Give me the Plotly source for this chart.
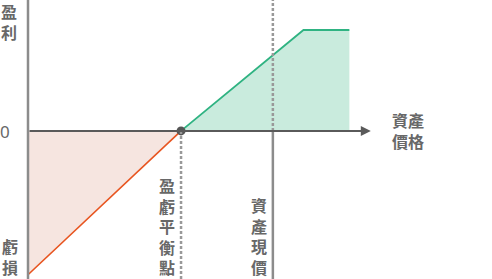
import plotly.graph_objects as go

# Data (price units / profit units)
loss_price = [0, 50]
loss_profit = [-47, 0]
gain_price = [50, 90, 105]
gain_profit = [0, 33, 33]
breakeven = 50
current_price = 80
axis_end = 112
x_range = [-9.15, 151.6]
y_range = [-48.4, 42.8]

label_color = "#686868"
font_cjk = "Noto Sans CJK TC"
lab_font = dict(family=font_cjk, size=16, color=label_color)
LINE = 20.5

fig = go.Figure()

fig.add_trace(go.Scatter(x=loss_price, y=loss_profit, mode="lines",
                         line=dict(color="#e8541f", width=1.6),
                         fill="tozeroy", fillcolor="#f6e5e0", hoverinfo="skip"))
fig.add_trace(go.Scatter(x=gain_price, y=gain_profit, mode="lines",
                         line=dict(color="#2fb382", width=1.8),
                         fill="tozeroy", fillcolor="#c9ebdd", hoverinfo="skip"))

shapes = [
    dict(type="line", xref="x", yref="paper", x0=0, x1=0, y0=0, y1=1,
         line=dict(color="#8c8c8c", width=2.5)),
    dict(type="line", xref="x", yref="y", x0=breakeven, x1=breakeven, y0=0, y1=y_range[0],
         line=dict(color="#999999", width=2.5, dash="3px,2px")),
    dict(type="line", xref="x", yref="y", x0=current_price, x1=current_price, y0=0, y1=y_range[1],
         line=dict(color="#999999", width=2.5, dash="3px,2px")),
    dict(type="line", xref="x", yref="y", x0=current_price, x1=current_price, y0=0, y1=y_range[0],
         line=dict(color="#8c8c8c", width=2.5)),
]

annotations = [
    dict(x=axis_end, y=0, ax=0, ay=0, xref="x", yref="y", axref="x", ayref="y",
         showarrow=True, arrowhead=2, arrowsize=1, arrowwidth=2, arrowcolor="#5a5a5a", text=""),
    dict(text="0", x=0, y=0, xref="x", yref="y", showarrow=False,
         font=dict(family="Noto Sans", size=17, color=label_color),
         xanchor="center", yanchor="middle", xshift=-23, yshift=-1),
]


def stacked(lines, x, xshift, top_px, step=LINE):
    """One annotation per line, stacked vertically from a top pixel offset."""
    out = []
    for i, ln in enumerate(lines):
        out.append(dict(text="<b>" + ln + "</b>", x=x, y=1, xref="x", yref="paper",
                        showarrow=False, font=lab_font, xanchor="center", yanchor="middle",
                        borderpad=0, xshift=xshift, yshift=-(top_px + i * step)))
    return out


annotations += stacked(list("盈利"), 0, -19, 11)
annotations += stacked(list("虧損"), 0, -18, 246)
annotations += stacked(list("盈虧平衡點"), breakeven, -14, 185)
annotations += stacked(list("資產現價"), current_price, -14, 205)
annotations += stacked(["資產", "價格"], axis_end, 37, 120, step=21)

fig.update_layout(
    width=492, height=279,
    margin=dict(l=0, r=0, t=0, b=0),
    paper_bgcolor="white", plot_bgcolor="white",
    showlegend=False,
    xaxis=dict(range=x_range, visible=False, fixedrange=True),
    yaxis=dict(range=y_range, visible=False, fixedrange=True),
    shapes=shapes,
    annotations=annotations,
)

fig.add_trace(go.Scatter(x=[breakeven], y=[0], mode="markers",
                         marker=dict(color="#555555", size=9), hoverinfo="skip"))

fig.write_html("out.html")
